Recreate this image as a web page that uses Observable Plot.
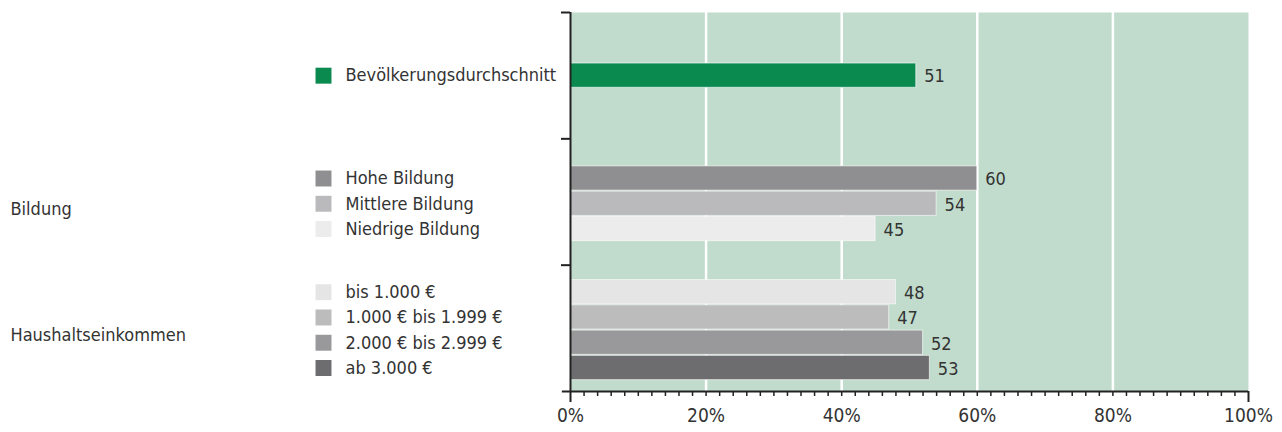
<!DOCTYPE html>
<html>
<head>
<meta charset="utf-8">
<script src="https://cdn.jsdelivr.net/npm/d3@7"></script>
<script src="https://cdn.jsdelivr.net/npm/@observablehq/plot@0.6"></script>
<style>
  html, body { margin: 0; padding: 0; background: #fff; }
  #chart svg { display: block; font-family: "Liberation Sans Narrow", "DejaVu Sans Condensed", "Roboto", sans-serif; }
</style>
</head>
<body>
<div id="chart"></div>
<script>
// ---- data ----
const groupNames = ["", "Bildung", "Haushaltseinkommen"];
const categories = [
  "Bevölkerungsdurchschnitt",
  "Hohe Bildung", "Mittlere Bildung", "Niedrige Bildung",
  "bis 1.000 €", "1.000 € bis 1.999 €", "2.000 € bis 2.999 €", "ab 3.000 €"
];
const categoryGroup = [0, 1, 1, 1, 2, 2, 2, 2];
const values = [51, 60, 54, 45, 48, 47, 52, 53];
const xTicks = [0, 20, 40, 60, 80, 100];

// ---- styles ----
const barColors = ["#0b8a4f", "#8f8f91", "#bababc", "#ececec", "#e5e5e5", "#bcbcbd", "#99999b", "#6d6d70"];
const textColor = "#333333";
const bgColor = "#c1dccc";
const rowsPerGroup = 5;

// ---- layout rows (computed) ----
const data = categories.map((c, i) => {
  const g = categoryGroup[i];
  const members = categoryGroup.map((gg, j) => gg === g ? j : -1).filter(j => j >= 0);
  const pos = members.indexOf(i);
  const yc = g * rowsPerGroup + rowsPerGroup / 2 + (pos - (members.length - 1) / 2) + (g > 0 ? 0.07 : 0);
  return {category: c, value: values[i], color: barColors[i], yc, y1: yc - 0.48, y2: yc + 0.48};
});
const groupLabels = groupNames
  .map((name, g) => ({name, yc: g * rowsPerGroup + rowsPerGroup / 2}))
  .filter(d => d.name);
const nRows = groupNames.length * rowsPerGroup;

const chart = Plot.plot({
  width: 1282,
  height: 432,
  marginLeft: 570,
  marginRight: 34,
  marginTop: 12,
  marginBottom: 41,
  style: {fontSize: "18px", color: textColor, background: "transparent"},
  x: {domain: [0, 100], axis: null, label: null},
  y: {domain: [0, nRows], reverse: true, axis: null, label: null},
  marks: [
    Plot.frame({fill: bgColor, stroke: null}),
    Plot.gridX(xTicks.filter(d => d > 0 && d < 100), {stroke: "#ffffff", strokeOpacity: 1, strokeWidth: 2.5}),
    Plot.rectX(data, {x1: 0, x2: "value", y1: "y1", y2: "y2", fill: "color", stroke: "#ffffff", strokeOpacity: 0.6, strokeWidth: 1}),
    Plot.text(data, {x: "value", y: "yc", text: d => String(d.value), dx: 8, dy: 1, textAnchor: "start", fill: textColor, fontSize: 18}),
    // category legend labels on the left
    Plot.dot(data, {x: 0, y: "yc", dx: -247, symbol: "square", r: 9, fill: "color", stroke: null}),
    Plot.text(data, {x: 0, y: "yc", dx: -225, text: "category", textAnchor: "start", fill: textColor, fontSize: 18}),
    // group labels
    Plot.text(groupLabels, {x: 0, y: "yc", dx: -560, dy: 7, text: "name", textAnchor: "start", fill: textColor, fontSize: 18}),
    // left spine and group separators
    Plot.ruleX([0], {y1: 0, y2: nRows, stroke: "#222", strokeWidth: 2}),
    Plot.axisY(d3.range(0, nRows, rowsPerGroup), {anchor: "left", label: null, tickSize: 9, tickFormat: () => "", stroke: "#222", strokeWidth: 2}),
    // bottom axis
    Plot.ruleY([nRows], {x1: -1.2, x2: 100, stroke: "#222", strokeWidth: 2}),
    Plot.axisX(d3.range(2, 100, 2), {anchor: "bottom", label: null, tickSize: 5, tickFormat: () => "", stroke: "#222", strokeWidth: 1.5}),
    Plot.axisX([0, 100], {anchor: "bottom", label: null, tickSize: 11, tickFormat: () => "", stroke: "#222", strokeWidth: 2}),
    Plot.axisX(xTicks, {anchor: "bottom", label: null, tickSize: 0, tickPadding: 17, tickFormat: d => d + "%", fill: textColor, fontSize: 19})
  ]
});
document.getElementById("chart").appendChild(chart);
</script>
</body>
</html>
